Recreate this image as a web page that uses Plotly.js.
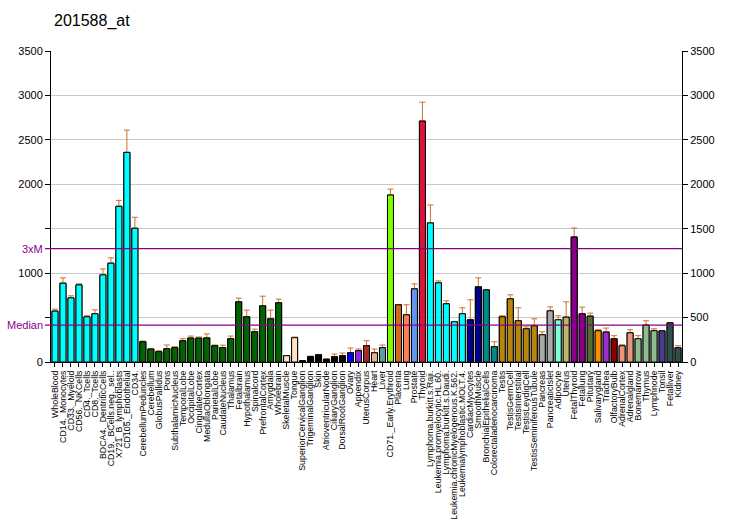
<!DOCTYPE html>
<html>
<head>
<meta charset="utf-8">
<script src="https://cdn.plot.ly/plotly-3.0.1.min.js"></script>
<style>html,body{margin:0;padding:0;background:#fff;}#chart{width:732px;height:530px;}</style>
</head>
<body>
<div id="chart"></div>
<script>
const chartTitle = "201588_at";
const categories = ["WholeBlood","CD14._Monocytes","CD33._Myeloid","CD56._NKCells","CD4._Tcells","CD8._Tcells","BDCA4._DentriticCells","CD19._BCells.neg._sel..","X721_B_lymphoblasts","CD105._Endothelial","CD34.","CerebellumPeduncles","Cerebellum","GlobusPallidus","Pons","SubthalamicNucleus","TemporalLobe","OccipitalLobe","CingulateCortex","MedullaOblongata","ParietalLobe","CaudateNucleus","Thalamus","Fetalbrain","Hypothalamus","Spinalcord","PrefrontalCortex","Amygdala","Wholebrain","SkeletalMuscle","Tongue","SuperiorCervicalGanglion","TrigeminalGanglion","Skin","AtrioventricularNode","CiliaryGanglion","DorsalRootGanglion","Ovary","Appendix","UterusCorpus","Heart","Liver","CD71._Early.Erythroid","Placenta","Lung","Prostate","Thyroid","Lymphoma.burkitt.s.Raji.","Leukemia.promyelocytic.HL.60.","Lymphoma.burkitt.s.Daudi.","Leukemia.chronicMyelogenous.K.562.","Leukemialymphoblastic.MOLT.4.","CardiacMyocytes","SmoothMuscle","BronchialEpithelialCells","Colorectaladenocarcinoma","Testis","TestisGermCell","TestisInterstitial","TestisLeydigCell","TestisSeminiferousTubule","Pancreas","PancreaticIslet","Adipocyte","Uterus","FetalThyroid","Fetallung","Pituitary","Salivarygland","Trachea","OlfactoryBulb","AdrenalCortex","Adrenalgland","Bonemarrow","Thymus","Lymphnode","Tonsil","Fetalliver","Kidney"];
const values = [573,887,722,868,509,543,981,1112,1752,2359,1505,228,146,116,149,161,239,269,269,271,183,161,262,677,509,340,632,486,666,71,273,15,60,82,30,60,71,104,127,183,104,161,1879,644,531,823,2711,1565,891,655,453,543,475,846,812,172,509,711,464,374,408,307,576,475,505,1407,543,516,352,337,262,183,329,262,415,352,352,441,161];
const errors = [22,60,23,12,11,44,67,60,67,250,124,8,0,11,42,11,23,23,12,45,8,29,30,42,75,30,109,98,42,0,8,0,7,0,7,30,30,53,19,56,42,30,67,0,113,56,213,202,22,34,0,67,225,101,0,56,11,45,146,22,78,33,45,45,172,101,75,34,11,45,34,11,34,34,49,22,0,0,22];
const medianValue = 416;
const threeXMValue = 1276;
const yTicks = [0,500,1000,1500,2000,2500,3000,3500];
const yTickTextLeft = ["0","","1000","","2000","2500","3000","3500"];
const yTickTextRight = ["0","500","1000","1500","2000","2500","3000","3500"];

// colour groups (style, not data)
const groupColors = [
  ["#00FFFF",11],["#006400",18],["#FFE4C4",2],["#000000",6],["#0000FF",1],["#8A2BE2",1],["#A52A2A",1],
  ["#DEB887",1],["#5F9EA0",1],["#7FFF00",1],["#D2691E",1],["#FF7F50",1],["#6495ED",1],["#DC143C",1],
  ["#00FFFF",5],["#00008B",2],["#008B8B",2],["#B8860B",5],["#A9A9A9",2],["#7FFFD4",1],["#BDB76B",1],
  ["#8B008B",2],["#556B2F",1],["#FF8C00",1],["#9932CC",1],["#8B0000",1],["#E9967A",2],["#8FBC8F",3],
  ["#483D8B",1],["#2F4F4F",2]
];
const barColors = [];
groupColors.forEach(g => { for (let i = 0; i < g[1]; i++) barColors.push(g[0]); });

const font = "Liberation Sans, Arial, sans-serif";
const purple = "#880088";
const errColor = "#C8702D";
const plotW = 732 - 51 - 50;

const traceBars = {
  type: "bar", x: categories, y: values,
  marker: {color: barColors, line: {color: "#000", width: 1}},
  error_y: {type: "data", symmetric: false, array: errors, arrayminus: errors.map(() => 0),
            color: errColor, thickness: 1, width: 3},
  hoverinfo: "x+y", showlegend: false
};
const traceCover = {
  type: "bar", x: categories, y: values, yaxis: "y2",
  marker: {color: barColors, line: {color: "#000", width: 1}},
  hoverinfo: "skip", showlegend: false
};

const layout = {
  width: 732, height: 530,
  margin: {l: 51, r: 50, t: 51, b: 168, pad: 0},
  paper_bgcolor: "#fff", plot_bgcolor: "#fff",
  bargap: 0.25,
  showlegend: false,
  title: {text: chartTitle, x: 54/732, xref: "container", xanchor: "left",
          y: 1 - 20/530, yref: "container", yanchor: "middle",
          font: {family: font, size: 16, color: "#000"}},
  xaxis: {type: "category", range: [-0.5, categories.length - 0.5],
          tickmode: "array", tickvals: categories, ticktext: categories,
          tickangle: -90, tickfont: {family: font, size: 8.8, color: "#000"},
          ticks: "outside", ticklen: 4, tickcolor: "#000", tickwidth: 1,
          showline: true, linecolor: "#000", linewidth: 1,
          showgrid: false, zeroline: false, fixedrange: true},
  yaxis: {range: [0, 3500], tickmode: "array", tickvals: yTicks, ticktext: yTickTextLeft,
          ticks: "outside", ticklen: 5, tickcolor: "#000",
          tickfont: {family: font, size: 11, color: "#000"},
          showline: true, linecolor: "#000", linewidth: 1,
          showgrid: true, gridcolor: "#C8C8C8", gridwidth: 1, zeroline: false},
  yaxis2: {range: [0, 3500], overlaying: "y", side: "right", tickmode: "array", tickvals: yTicks,
          ticktext: yTickTextRight,
          ticks: "outside", ticklen: 5, tickcolor: "#000",
          tickfont: {family: font, size: 11, color: "#000"},
          showline: true, linecolor: "#000", linewidth: 1,
          showgrid: false, zeroline: false},
  shapes: [
    {type: "line", xref: "paper", x0: -6/plotW, x1: 1, yref: "y", y0: medianValue, y1: medianValue,
     line: {color: purple, width: 1.2}, layer: "above"},
    {type: "line", xref: "paper", x0: -6/plotW, x1: 1, yref: "y", y0: threeXMValue, y1: threeXMValue,
     line: {color: purple, width: 1.2}, layer: "above"}
  ],
  annotations: [
    {text: "Median", xref: "paper", x: 0, xanchor: "right", xshift: -6, yref: "y", y: medianValue,
     yanchor: "middle", showarrow: false, font: {family: font, size: 11, color: purple}},
    {text: "3xM", xref: "paper", x: 0, xanchor: "right", xshift: -6, yref: "y", y: threeXMValue,
     yanchor: "middle", showarrow: false, font: {family: font, size: 11, color: purple}}
  ]
};

Plotly.newPlot("chart", [traceBars, traceCover], layout, {displayModeBar: false, staticPlot: true});
</script>
</body>
</html>
